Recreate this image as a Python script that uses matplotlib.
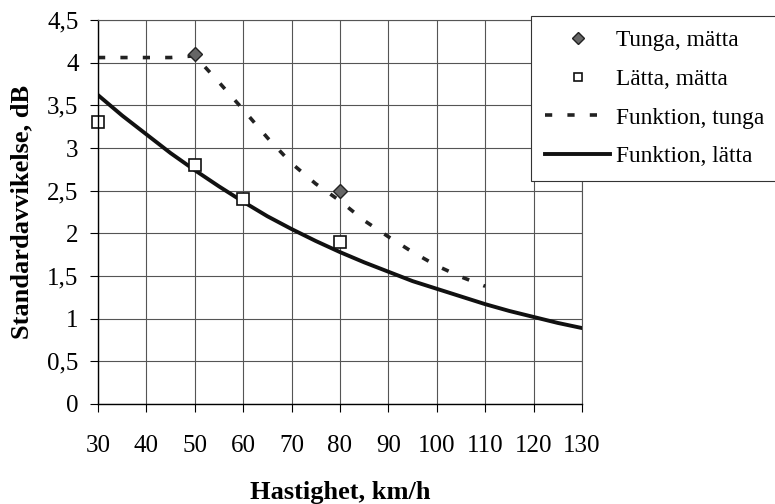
import numpy as np
import matplotlib
matplotlib.use("Agg")
import matplotlib.pyplot as plt

# ------------------------------------------------------------
# data
# ------------------------------------------------------------
speed_tunga_meas = [50, 80]
sd_tunga_meas = [4.1, 2.5]

speed_latta_meas = [30, 50, 60, 80]
sd_latta_meas = [3.3, 2.8, 2.4, 1.9]

speed_tunga_func = [30, 35, 40, 45, 50, 55, 60, 65, 70, 75, 80, 85, 90, 95, 100, 105, 110]
sd_tunga_func = [4.06, 4.06, 4.06, 4.06, 4.08, 3.77, 3.45, 3.12, 2.82, 2.58, 2.38,
                 2.15, 1.96, 1.78, 1.62, 1.49, 1.38]

speed_latta_func = [30, 35, 40, 45, 50, 55, 60, 65, 70, 75, 80, 85, 90, 95, 100,
                    105, 110, 115, 120, 125, 130]
sd_latta_func = [3.62, 3.38, 3.16, 2.94, 2.74, 2.55, 2.37, 2.20, 2.05, 1.91, 1.78,
                 1.66, 1.55, 1.44, 1.35, 1.26, 1.17, 1.09, 1.02, 0.95, 0.89]

x_ticks = [30, 40, 50, 60, 70, 80, 90, 100, 110, 120, 130]
y_ticks = [0, 0.5, 1, 1.5, 2, 2.5, 3, 3.5, 4, 4.5]
y_tick_labels = ["0", "0,5", "1", "1,5", "2", "2,5", "3", "3,5", "4", "4,5"]

labels = ["Tunga, mätta", "Lätta, mätta", "Funktion, tunga", "Funktion, lätta"]

# ------------------------------------------------------------
# plot
# ------------------------------------------------------------
plt.rcParams['font.family'] = ['Liberation Serif', 'DejaVu Serif']

fig = plt.figure(figsize=(7.75, 5.04), dpi=100)
ax = fig.add_axes([98 / 775, 1 - 404 / 504, 484 / 775, 384 / 504])

ax.set_xlim(30, 130)
ax.set_ylim(0, 4.5)

ax.set_xticks(x_ticks)
ax.set_yticks(y_ticks)
ax.set_yticklabels(y_tick_labels)
ax.grid(True, color='#555555', linewidth=0.8)
ax.set_axisbelow(True)

for side in ['top', 'right']:
    ax.spines[side].set_color('#555555')
    ax.spines[side].set_linewidth(0.8)
for side in ['left', 'bottom']:
    ax.spines[side].set_color('black')
    ax.spines[side].set_linewidth(1.0)

ax.tick_params(axis='x', direction='out', length=6, width=0.8, pad=16, labelsize=18)
ax.tick_params(axis='y', direction='out', length=6, width=0.8, pad=8, labelsize=18)

l_tf, = ax.plot(speed_tunga_func, sd_tunga_func, color='#222222', linewidth=2.6,
                linestyle=(0, (2.0, 4.2)))
l_lf, = ax.plot(speed_latta_func, sd_latta_func, color='#111111', linewidth=2.8)
m_tm, = ax.plot(speed_tunga_meas, sd_tunga_meas, linestyle='none', marker='D',
                markersize=7, markerfacecolor='#666666', markeredgecolor='#222222',
                markeredgewidth=1.0, clip_on=False)
m_lm, = ax.plot(speed_latta_meas, sd_latta_meas, linestyle='none', marker='s',
                markersize=9, markerfacecolor='white', markeredgecolor='#111111',
                markeredgewidth=1.2, clip_on=False)

ax.set_ylabel("Standardavvikelse, dB", fontsize=19, fontweight='bold')
ax.yaxis.set_label_coords(-0.134, 0.5)
ax.set_xlabel("Hastighet, km/h", fontsize=19, fontweight='bold')
ax.xaxis.set_label_coords(0.5, -0.2)

leg = fig.legend([m_tm, m_lm, l_tf, l_lf], labels,
                 loc='upper left', bbox_to_anchor=(531 / 775, 1 - 16 / 504),
                 fontsize=16.8, frameon=True, fancybox=False, framealpha=1,
                 edgecolor='#333333', borderpad=0.6, labelspacing=0.74,
                 handlelength=2.8, handletextpad=0.25, borderaxespad=0)
leg.get_frame().set_linewidth(0.8)
for h in leg.legend_handles[:2]:
    h.set_markersize(6)

plt.savefig("out.png", dpi=100)
